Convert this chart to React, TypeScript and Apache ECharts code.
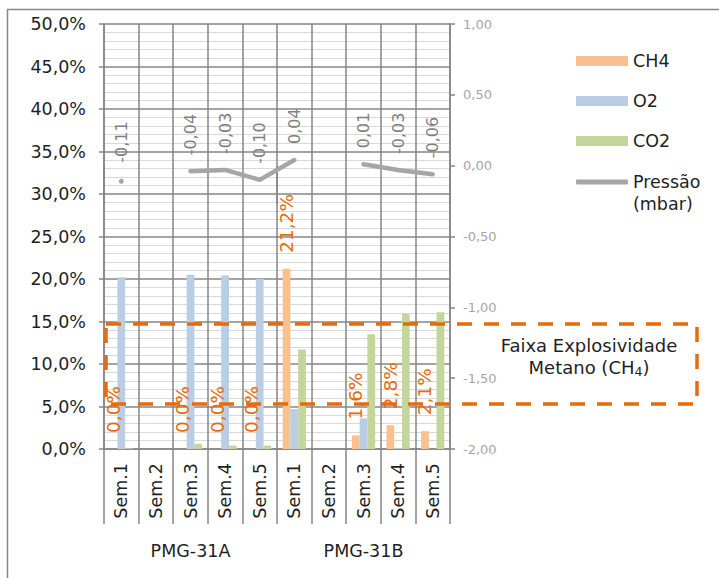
import React, { useEffect, useRef } from 'react';
import * as echarts from 'echarts';

const groups = ['PMG-31A', 'PMG-31B'];
const weeks = ['Sem.1', 'Sem.2', 'Sem.3', 'Sem.4', 'Sem.5'];
const categories = groups.flatMap((g) => weeks.map((w) => g + '|' + w));

const ch4 = [0.0, null, 0.0, 0.0, 0.0, 21.2, null, 1.6, 2.8, 2.1];
const o2 = [20.2, null, 20.5, 20.4, 20.0, 4.7, null, 3.6, 0.1, 0.0];
const co2 = [0.1, null, 0.6, 0.4, 0.4, 11.7, null, 13.5, 15.9, 16.1];
const pressure = [-0.11, null, -0.04, -0.03, -0.1, 0.04, null, 0.01, -0.03, -0.06];

const leftMin = 0;
const leftMax = 50;
const leftInterval = 5;
const rightMin = -2;
const rightMax = 1;
const rightInterval = 0.5;

const FONT = 'DejaVu Sans';
const GRID = '#868686';
const ORANGE = '#E46C0A';
const DARK = '#1f1f1f';
const FS = 17.5;

const fmtPct = (v: number) => v.toFixed(1).replace('.', ',') + '%';
const fmtP = (v: number) => v.toFixed(2).replace('.', ',');

export default function App() {
  const ref = useRef<HTMLDivElement>(null);
  useEffect(() => {
    const chart = echarts.init(ref.current!, null, { renderer: 'svg' });
    const isolated = (i: number) =>
      pressure[i] != null &&
      (i === 0 || pressure[i - 1] == null) &&
      (i === pressure.length - 1 || pressure[i + 1] == null);
    const barLabel = {
      show: true,
      position: 'top',
      rotate: 90,
      align: 'left',
      verticalAlign: 'middle',
      distance: 16,
      color: ORANGE,
      fontSize: 18.5,
      fontFamily: FONT,
      formatter: (p: any) => fmtPct(p.value),
    };
    chart.setOption({
      animation: false,
      backgroundColor: '#ffffff',
      textStyle: { fontFamily: FONT },
      grid: { left: 104, right: 269, top: 24, bottom: 129 },
      xAxis: [
        {
          type: 'category',
          data: categories,
          boundaryGap: true,
          axisLine: { show: true, lineStyle: { color: GRID, width: 1.5 } },
          axisTick: { show: true, interval: 0, length: 75, lineStyle: { color: GRID, width: 1.5 } },
          axisLabel: {
            interval: 0,
            rotate: 90,
            margin: 14,
            fontSize: FS,
            color: DARK,
            fontFamily: FONT,
            formatter: (v: string) => v.split('|')[1],
          },
          splitLine: { show: true, interval: 0, lineStyle: { color: GRID, width: 1.5 } },
        },
        {
          type: 'category',
          data: groups,
          gridIndex: 0,
          position: 'bottom',
          offset: 75,
          boundaryGap: true,
          axisLine: { show: false },
          axisTick: { show: true, interval: 0, length: 38, lineStyle: { color: GRID, width: 1.5 } },
          axisLabel: { interval: 0, margin: 18, fontSize: FS, color: DARK, fontFamily: FONT },
          splitLine: { show: false },
        },
      ],
      yAxis: [
        {
          type: 'value',
          position: 'left',
          min: leftMin,
          max: leftMax,
          interval: leftInterval,
          axisLine: { show: true, lineStyle: { color: GRID, width: 1.5 } },
          axisTick: { show: true, length: 5, lineStyle: { color: GRID, width: 1.5 } },
          axisLabel: { formatter: fmtPct, fontSize: FS, color: DARK, margin: 18, fontFamily: FONT },
          splitLine: { show: true, lineStyle: { color: GRID, width: 1.5 } },
          minorTick: { show: false, splitNumber: 5 },
          minorSplitLine: { show: true, lineStyle: { color: '#d9d9d9', width: 1 } },
        },
        {
          type: 'value',
          position: 'right',
          min: rightMin,
          max: rightMax,
          interval: rightInterval,
          axisLine: { show: true, lineStyle: { color: GRID, width: 1.5 } },
          axisTick: { show: true, length: 5, lineStyle: { color: GRID, width: 1.5 } },
          axisLabel: { formatter: fmtP, fontSize: 13, color: '#a6a6a6', margin: 13, fontFamily: FONT },
          splitLine: { show: false },
        },
      ],
      legend: [
        {
          orient: 'vertical',
          left: 576,
          top: 51,
          padding: 0,
          itemWidth: 52,
          itemHeight: 10,
          itemGap: 20,
          icon: 'rect',
          selectedMode: false,
          data: ['CH4', 'O2', 'CO2'],
          textStyle: { fontSize: FS, color: DARK, lineHeight: 20, fontFamily: FONT },
        },
        {
          orient: 'vertical',
          left: 576,
          top: 149,
          padding: 0,
          itemWidth: 52,
          itemHeight: 5,
          selectedMode: false,
          data: [{ name: 'Pressão (mbar)', icon: 'roundRect', itemStyle: { color: '#a6a6a6' } }],
          formatter: () => '\nPressão\n(mbar)',
          textStyle: { fontSize: FS, color: DARK, lineHeight: 22, fontFamily: FONT },
        },
      ],
      series: [
        {
          name: 'CH4',
          type: 'bar',
          data: ch4,
          barGap: '0%',
          barCategoryGap: '33%',
          itemStyle: { color: '#FAC090' },
          label: barLabel,
        },
        {
          name: 'O2',
          type: 'bar',
          data: o2,
          barGap: '0%',
          barCategoryGap: '33%',
          itemStyle: { color: '#B9CDE5' },
        },
        {
          name: 'CO2',
          type: 'bar',
          data: co2,
          barGap: '0%',
          barCategoryGap: '33%',
          itemStyle: { color: '#C3D69B' },
        },
        {
          name: 'Pressão (mbar)',
          type: 'line',
          yAxisIndex: 1,
          connectNulls: false,
          symbol: 'circle',
          showSymbol: true,
          data: pressure.map((v, i) => ({ value: v, symbolSize: isolated(i) ? 5 : 0 })),
          lineStyle: { color: '#a6a6a6', width: 4.5, cap: 'round', join: 'round' },
          itemStyle: { color: '#a6a6a6' },
          label: {
            show: true,
            position: 'top',
            rotate: 90,
            align: 'left',
            verticalAlign: 'middle',
            distance: 16,
            color: '#7f7f7f',
            fontSize: 16,
            fontFamily: FONT,
            formatter: (p: any) => fmtP(p.value),
          },
          z: 5,
        },
      ],
      graphic: [
        {
          type: 'rect',
          silent: true,
          z: 100,
          shape: { x: 7.5, y: 9.5, width: 900, height: 900 },
          style: { fill: 'none', stroke: GRID, lineWidth: 1.5 },
        },
        {
          type: 'rect',
          silent: true,
          z: 100,
          shape: { x: 106, y: 324, width: 591, height: 80 },
          style: { fill: 'none', stroke: ORANGE, lineWidth: 3.5, lineDash: [15, 12] },
        },
        {
          type: 'text',
          silent: true,
          z: 100,
          x: 589,
          y: 356,
          style: {
            text: '{n|Faixa Explosividade}\n{n|Metano (CH}{s|4}{n|)}',
            align: 'center',
            verticalAlign: 'middle',
            rich: {
              n: { fontSize: 18, fontFamily: FONT, fill: DARK, color: DARK, lineHeight: 22 },
              s: { fontSize: 12.5, fontFamily: FONT, fill: DARK, color: DARK, lineHeight: 22, verticalAlign: 'bottom' },
            },
          },
        },
      ],
    });
    return () => chart.dispose();
  }, []);
  return (
    <div
      ref={ref}
      style={{ position: 'absolute', left: 0, top: 0, width: 719, height: 578, background: '#fff' }}
    />
  );
}
